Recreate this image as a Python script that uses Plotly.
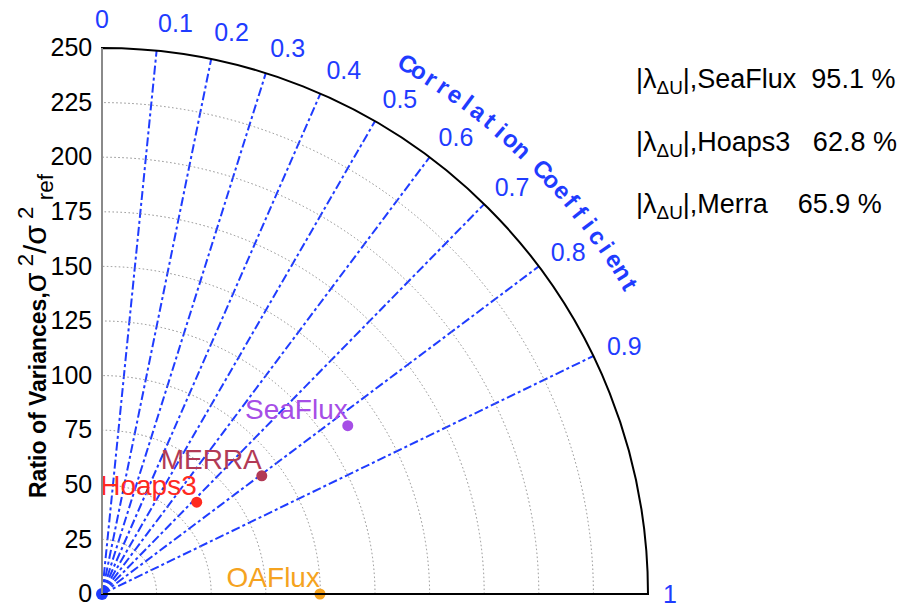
import numpy as np
import plotly.graph_objects as go

# ---------------- data ----------------
names = ["SeaFlux", "MERRA", "Hoaps3", "OAFlux"]
correlation = [0.825, 0.804, 0.718, 1.0]
variance_ratio = [136.4, 91.0, 60.4, 99.8]
point_colors = ["#a64ee6", "#b23a55", "#ff2a1f", "#f5a31f"]

ref_ratio = [0]
ref_theta = [0]

corr_ticks = [0, 0.1, 0.2, 0.3, 0.4, 0.5, 0.6, 0.7, 0.8, 0.9, 1]
corr_ticktext = ["0", "0.1", "0.2", "0.3", "0.4", "0.5", "0.6", "0.7", "0.8", "0.9", "1"]
ratio_ticks = [0, 25, 50, 75, 100, 125, 150, 175, 200, 225, 250]

lam_datasets = ["SeaFlux", "Hoaps3", "Merra"]
lam_values = [95.1, 62.8, 65.9]

arc_title = "Correlation Coefficient"

# ---------------- figure ----------------
BLUE = "#1f3cff"
W, H = 914, 607
OX, OY, R = 102, 594, 546  # origin & radius in pixels (layout)

theta_pts = np.degrees(np.arccos(correlation))
theta_ticks = np.degrees(np.arccos(corr_ticks))

fig = go.Figure()
fig.add_trace(go.Scatterpolar(
    r=variance_ratio, theta=theta_pts, mode="markers",
    marker=dict(color=point_colors, size=11),
    cliponaxis=False, hoverinfo="skip"))
fig.add_trace(go.Scatterpolar(
    r=variance_ratio, theta=theta_pts, mode="text",
    text=names, textposition="top left",
    textfont=dict(color=point_colors, size=28, family="Liberation Sans"),
    cliponaxis=False, hoverinfo="skip"))
fig.add_trace(go.Scatterpolar(
    r=ref_ratio, theta=ref_theta, mode="markers",
    marker=dict(color=BLUE, size=12), hoverinfo="skip"))

fig.update_layout(
    width=W, height=H,
    margin=dict(l=0, r=0, t=0, b=0),
    paper_bgcolor="white",
    showlegend=False,
    font=dict(family="Liberation Sans"),
    polar=dict(
        sector=[0, 90],
        domain=dict(x=[OX / W, (OX + R) / W], y=[(H - OY) / H, (H - OY + R) / H]),
        bgcolor="white",
        radialaxis=dict(
            range=[0, 250], tickvals=ratio_ticks, angle=90, side="counterclockwise",
            showline=True, linecolor="#8a8a8a", linewidth=2,
            showgrid=True, gridcolor="#8c8c8c", griddash="1.5px,2.5px", gridwidth=1.4,
            ticks="", tickfont=dict(size=25, color="black"), tickangle=90,
        ),
        angularaxis=dict(
            rotation=0, direction="counterclockwise", thetaunit="degrees",
            tickvals=theta_ticks, ticktext=corr_ticktext,
            tickfont=dict(size=25, color=BLUE),
            showline=True, linecolor="black", linewidth=2,
            showgrid=True, gridcolor=BLUE, griddash="dashdot", gridwidth=1.7,
            ticks="outside", ticklen=9, tickcolor="rgba(0,0,0,0)",
        ),
    ),
)

annotations = []
# curved "Correlation Coefficient" text
a0, step, rad = 60.1, 1.35, 612
for i, ch in enumerate(arc_title):
    if ch == " ":
        continue
    a = a0 - i * step
    x = OX + rad * np.cos(np.radians(a))
    y = OY - rad * np.sin(np.radians(a))
    annotations.append(dict(
        x=x / W, y=1 - y / H, xref="paper", yref="paper", showarrow=False,
        text="<b>" + ch + "</b>", textangle=90 - a,
        font=dict(size=24, color=BLUE, family="Liberation Sans"),
        xanchor="center", yanchor="middle"))

# radial axis title
annotations.append(dict(
    x=35 / W, y=1 - 336 / H, xref="paper", yref="paper", showarrow=False,
    text="<b>Ratio of Variances,</b><span style='font-size:32px'>σ<sup>\u00a02</sup>/σ<sup>\u00a02</sup><sub>\u00a0ref</sub></span>",
    textangle=-90, font=dict(size=23, color="black"),
    xanchor="center", yanchor="middle"))

# right-hand legend text
for k, (nm, v) in enumerate(zip(lam_datasets, lam_values)):
    pad = "\u00a0" * (2 if k == 0 else 3 if k == 1 else 4)
    annotations.append(dict(
        x=634 / W, y=1 - (81 + 62.5 * k) / H, xref="paper", yref="paper",
        showarrow=False, xanchor="left", yanchor="middle",
        text=f"|λ<sub>ΔU</sub>|,{nm}{pad}{v:.1f} %",
        font=dict(size=27, color="black")))

fig.update_layout(annotations=annotations)
fig.write_html("out.html", config={"displayModeBar": False},
               post_script="document.body.style.margin='0px';")
